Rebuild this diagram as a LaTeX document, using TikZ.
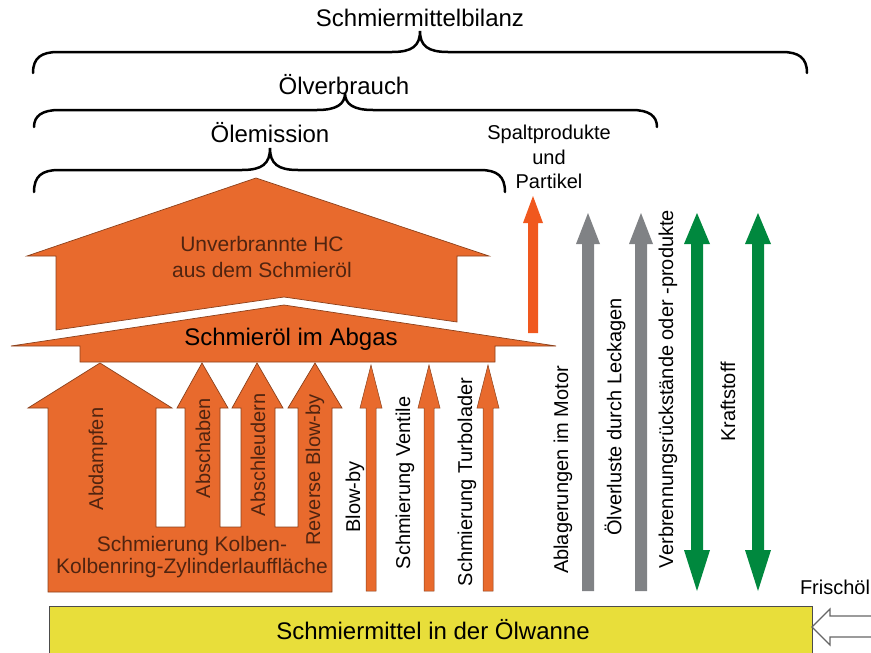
\documentclass[tikz,border=0pt]{standalone}
\usepackage{fontspec}
\setmainfont{Liberation Sans}
\usepackage{tikz}
\definecolor{kolbenorange}{RGB}{232,106,45}
\definecolor{spaltorange}{RGB}{240,88,30}
\definecolor{verlustgrau}{RGB}{128,130,133}
\definecolor{kraftgruen}{RGB}{0,136,62}
\definecolor{wannengelb}{RGB}{232,222,58}
\definecolor{textbraun}{RGB}{80,36,16}
\tikzset{
  titel/.style={font=\fontsize{24}{28}\selectfont},
  etikett/.style={font=\fontsize{20}{24}\selectfont},
  klammer/.style={line width=2.5pt, line cap=round},
  oelflaeche/.style={fill=kolbenorange, draw=kolbenorange!60!black, line width=0.7pt, line join=miter},
  senkrecht/.style={etikett, rotate=90}
}

\begin{document}
\begin{tikzpicture}[x=1pt, y=-1pt]
    \useasboundingbox (0,0) rectangle (871,653);
    % Klammern oben
    \foreach \l/\r/\m/\y/\a in {33/807/420/52/21, 34/657/345/110/17, 34/505/270/170/22}
        \draw[klammer] (\l,\y+\a) .. controls (\l,\y+6) and (\l+8,\y) .. (\l+25,\y) -- (\m-28,\y)
            .. controls (\m-8,\y) and (\m,\y-6) .. (\m,\y-\a) .. controls (\m,\y-6) and (\m+8,\y) .. (\m+28,\y)
            -- (\r-25,\y) .. controls (\r-8,\y) and (\r,\y+6) .. (\r,\y+\a);
    \node[titel] (bilanz) at (420,18) {Schmiermittelbilanz};
    \node[titel] (verbrauch) at (344,85) {Ölverbrauch};
    \node[titel] (emission) at (270,133) {Ölemission};
    \node[etikett, align=center, font=\fontsize{20}{24.5}\selectfont] (spalt) at (549,157) {Spaltprodukte\\und\\Partikel};

    % Haus: unverbrannte HC und Schmieroel im Abgas
    \draw[oelflaeche] (256,178) -- (27,256) -- (56,256) -- (56,330) -- (284,297) -- (457,322) -- (457,256) -- (489,256) -- cycle;
    \node[etikett, align=center, font=\fontsize{21}{26}\selectfont, text=textbraun] (hc) at (262,257) {Unverbrannte HC\\aus dem Schmieröl};
    \draw[oelflaeche] (11,346) -- (284,305) -- (556,346) -- (495,346) -- (495,362) -- (80,362) -- (80,346) -- cycle;
    \node[titel] (abgas) at (291,339) {Schmieröl im Abgas};

    % Kolben-Kolbenring-Zylinderlaufflaeche
    \draw[oelflaeche] (48,592) -- (48,408) -- (28,408) -- (100,363) -- (172,408) -- (156,408) -- (156,527)
        -- (185,527) -- (185,408) -- (177,408) -- (202,363) -- (228,408) -- (220,408) -- (220,527)
        -- (241,527) -- (241,408) -- (232,408) -- (257,363) -- (283,408) -- (275,408) -- (275,527)
        -- (298,527) -- (298,408) -- (288,408) -- (315,363) -- (342,408) -- (332,408) -- (332,592) -- cycle;
    \node[senkrecht, text=textbraun] (abdampfen) at (98,459) {Abdampfen};
    \node[senkrecht, text=textbraun] (abschaben) at (203,448) {Abschaben};
    \node[senkrecht, text=textbraun] (abschleudern) at (258,455) {Abschleudern};
    \node[senkrecht, text=textbraun] (reverse) at (315,470) {Reverse Blow-by};
    \node[etikett, align=center, font=\fontsize{21}{22}\selectfont, text=textbraun] (kolben) at (192,557) {Schmierung Kolben-\\Kolbenring-Zylinderlauffläche};

    % schmale Pfeile
    \foreach \x in {371,429,488}
        \draw[oelflaeche, line width=0.5pt] (\x-5,591) -- (\x-5,408) -- (\x-11,408) -- (\x,365) -- (\x+11,408) -- (\x+5,408) -- (\x+5,591) -- cycle;
    \node[senkrecht] (blowby) at (355,497) {Blow-by};
    \node[senkrecht] (ventile) at (405,483) {Schmierung Ventile};
    \node[senkrecht] (turbo) at (467,482) {Schmierung Turbolader};
    \fill[spaltorange] (528,333) -- (528,223) -- (523,223) -- (533,196) -- (543,223) -- (538,223) -- (538,333) -- cycle;

    % Ablagerungen und Leckagen
    \foreach \x in {588,641}
        \fill[verlustgrau] (\x-6,591) -- (\x-6,244) -- (\x-12,244) -- (\x,213) -- (\x+12,244) -- (\x+6,244) -- (\x+6,591) -- cycle;
    \node[senkrecht] (ablagerung) at (563,470) {Ablagerungen im Motor};
    \node[senkrecht] (leckage) at (615,417) {Ölverluste durch Leckagen};

    % Verbrennungsrueckstaende und Kraftstoff
    \foreach \x in {697,758}
        \fill[kraftgruen] (\x,213) -- (\x+13,244) -- (\x+6,244) -- (\x+6,550) -- (\x+13,550) -- (\x,591)
            -- (\x-13,550) -- (\x-6,550) -- (\x-6,244) -- (\x-13,244) -- cycle;
    \node[senkrecht] (verbrennung) at (668,389) {Verbrennungsrückstände oder -produkte};
    \node[senkrecht] (kraftstoff) at (728,402) {Kraftstoff};

    % Oelwanne
    \fill[wannengelb] (49,606) rectangle (812,653);
    \draw[black!70, line width=1pt] (49,653) -- (49,606) -- (812,606) -- (812,653);
    \node[titel] (wanne) at (433,630) {Schmiermittel in der Ölwanne};
    \node[etikett] (frisch) at (835,587) {Frischöl};
    \draw[black!60, line width=1.2pt, fill=white] (872,616) -- (830,616) -- (830,609) -- (812,627) -- (830,645) -- (830,637) -- (872,637);
\end{tikzpicture}
\end{document}
